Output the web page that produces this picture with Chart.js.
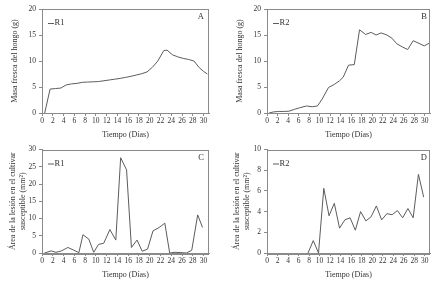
<!DOCTYPE html>
<html>
<head>
<meta charset="utf-8">
<script src="https://cdn.jsdelivr.net/npm/chart.js@4"></script>
<style>
  html, body { margin: 0; padding: 0; background: #fff; }
  body { width: 445px; height: 289px; position: relative; overflow: hidden; }
  .panel { position: absolute; }
</style>
</head>
<body>
<div class="panel" style="left:0;top:0;width:222px;height:142px"><canvas id="cA"></canvas></div>
<div class="panel" style="left:222px;top:0;width:223px;height:142px"><canvas id="cB"></canvas></div>
<div class="panel" style="left:0;top:142px;width:222px;height:147px"><canvas id="cC"></canvas></div>
<div class="panel" style="left:222px;top:142px;width:223px;height:147px"><canvas id="cD"></canvas></div>
<script>
// Tick labels
const xTicks = [0, 2, 4, 6, 8, 10, 12, 14, 16, 18, 20, 22, 24, 26, 28, 30];
const yTicksMasa = [0, 5, 10, 15, 20];
const yTicksAreaR1 = [0, 5, 10, 15, 20, 25, 30];
const yTicksAreaR2 = [0, 2, 4, 6, 8, 10];

// A: masa fresca R1
const daysA = [0.5, 1.5, 2.5, 3.5, 4.5, 5.5, 6.5, 7.5, 8.5, 9.5, 10.5, 11.5, 12.5, 13.5, 14.5, 15.5,
  16.5, 17.5, 18.5, 19.5, 20.5, 21.5, 22.6, 23.2, 24.2, 25.2, 26.2, 27.2, 28.2, 29.2, 30.0, 30.7];
const masaR1 = [0, 4.6, 4.7, 4.8, 5.4, 5.6, 5.7, 5.9, 5.95, 6.0, 6.05, 6.2, 6.35, 6.5, 6.65, 6.85,
  7.05, 7.3, 7.55, 7.9, 8.8, 10.0, 12.0, 12.1, 11.2, 10.8, 10.5, 10.3, 10.0, 8.7, 8.0, 7.5];

// B: masa fresca R2
const daysB = [0.4, 1.2, 2.2, 3.2, 4.2, 5.2, 6.2, 7.5, 8.6, 9.6, 10.5, 11.7, 12.8, 13.8, 14.5, 15.5,
  16.6, 17.6, 18.75, 19.8, 20.75, 21.7, 22.8, 23.75, 24.7, 25.75, 26.75, 27.8, 28.9, 29.9, 30.8];
const masaR2 = [0, 0.2, 0.3, 0.3, 0.35, 0.7, 1.0, 1.35, 1.2, 1.35, 2.7, 4.9, 5.5, 6.2, 6.9, 9.2,
  9.3, 16.0, 15.1, 15.5, 15.0, 15.4, 15.0, 14.4, 13.3, 12.7, 12.2, 13.9, 13.4, 12.9, 13.4];

// C: area de lesion R1
const daysC = [0.47, 1.7, 2.6, 3.6, 4.8, 5.8, 6.85, 7.6, 8.7, 9.6, 10.5, 11.45, 12.6, 13.7, 14.6,
  15.7, 16.6, 17.65, 18.6, 19.6, 20.6, 21.75, 22.8, 23.7, 24.7, 25.8, 26.8, 27.8, 28.9, 29.8];
const areaR1 = [0, 0.6, 0.2, 0.6, 1.6, 0.9, 0.1, 5.3, 4.0, 0.2, 2.5, 2.8, 6.8, 3.75, 27.6,
  24.1, 1.6, 3.75, 0.5, 1.15, 6.4, 7.4, 8.65, 0, 0.2, 0.1, 0, 0.8, 11.05, 7.4];

// D: area de lesion R2
const daysD = [7.8, 8.8, 9.8, 10.8, 11.8, 12.8, 13.8, 14.8, 15.8, 16.8, 17.8, 18.8, 19.8, 20.8,
  21.8, 22.8, 23.8, 24.8, 25.8, 26.8, 27.8, 28.8, 29.8];
const areaR2 = [0, 1.2, 0, 6.25, 3.6, 4.8, 2.4, 3.2, 3.4, 2.2, 4.0, 3.1, 3.5, 4.55,
  3.2, 3.8, 3.7, 4.1, 3.4, 4.3, 3.4, 7.6, 5.4];

const serif = '"Liberation Serif", "DejaVu Serif", serif';
const textColor = '#333';
const axisColor = '#8a8a8a';
const lineColor = '#5c5c5c';

// frame around the plot area + legend sample + panel letter
const framePlugin = {
  id: 'frame',
  afterDraw(chart, args, opts) {
    const { ctx, chartArea: a } = chart;
    ctx.save();
    ctx.strokeStyle = axisColor;
    ctx.lineWidth = 1;
    ctx.strokeRect(Math.round(a.left) + 0.5, Math.round(a.top) + 0.5,
      Math.round(a.right - a.left) - 1, Math.round(a.bottom - a.top));
    // legend
    const ly = a.top + 14;
    ctx.strokeStyle = lineColor;
    ctx.beginPath();
    ctx.moveTo(a.left + 6, ly + 0.5);
    ctx.lineTo(a.left + 12, ly + 0.5);
    ctx.stroke();
    ctx.fillStyle = textColor;
    ctx.font = '8.5px ' + serif;
    ctx.textBaseline = 'middle';
    ctx.textAlign = 'left';
    ctx.fillText(opts.label, a.left + 12.5, ly);
    ctx.textAlign = 'right';
    ctx.fillText(opts.letter, a.right - opts.letterInset, a.top + 8);
    ctx.restore();
  }
};

function makeChart(id, cfg) {
  return new Chart(document.getElementById(id), {
    type: 'line',
    data: {
      datasets: [{
        label: cfg.label,
        data: cfg.days.map((d, i) => ({ x: d, y: cfg.values[i] })),
        borderColor: lineColor,
        borderWidth: 1,
        pointRadius: 0,
        tension: 0,
        fill: false
      }]
    },
    options: {
      responsive: true,
      maintainAspectRatio: false,
      animation: false,
      layout: { padding: { top: cfg.padTop, right: cfg.padRight, left: 0, bottom: 0 } },
      scales: {
        x: {
          type: 'linear',
          min: 0,
          max: 31,
          afterBuildTicks: s => { s.ticks = xTicks.map(v => ({ value: v })); },
          afterFit: s => { s.height = cfg.xHeight; },
          title: {
            display: true,
            text: 'Tiempo (Días)',
            color: textColor,
            font: { family: serif, size: 8, lineHeight: 1.3 },
            padding: { top: 0, bottom: cfg.xTitlePad }
          },
          ticks: {
            color: textColor,
            font: { family: serif, size: 7.5 },
            padding: 1,
            maxRotation: 0,
            autoSkip: false
          },
          grid: { drawOnChartArea: false, tickLength: 3, color: axisColor },
          border: { color: axisColor }
        },
        y: {
          min: 0,
          max: cfg.yTicks[cfg.yTicks.length - 1],
          afterBuildTicks: s => { s.ticks = cfg.yTicks.map(v => ({ value: v })); },
          afterFit: s => { s.width = cfg.yWidth; },
          title: {
            display: true,
            text: cfg.yTitle,
            color: textColor,
            font: { family: serif, size: 8, lineHeight: 1.3 },
            padding: { top: cfg.yTitlePad, bottom: 0 }
          },
          ticks: {
            color: textColor,
            font: { family: serif, size: 7.5 },
            padding: 3
          },
          grid: { drawOnChartArea: false, tickLength: 3, color: axisColor },
          border: { color: axisColor }
        }
      },
      plugins: {
        legend: { display: false },
        tooltip: { enabled: false },
        frame: { label: cfg.label, letter: cfg.letter, letterInset: cfg.letterInset }
      }
    },
    plugins: [framePlugin]
  });
}

const masaTitle = 'Masa fresca del hongo (g)';
const areaTitle = ['Área de la lesión en el cultivar', 'susceptible (mm²)'];

makeChart('cA', { label: 'R1', letter: 'A', letterInset: 5, days: daysA, values: masaR1,
  yTicks: yTicksMasa, yTitle: masaTitle, padTop: 9, padRight: 13, yWidth: 42, xHeight: 29,
  xTitlePad: 1.5, yTitlePad: 9.8 });
makeChart('cB', { label: 'R2', letter: 'B', letterInset: 3, days: daysB, values: masaR2,
  yTicks: yTicksMasa, yTitle: masaTitle, padTop: 9, padRight: 15, yWidth: 45, xHeight: 29,
  xTitlePad: 1.5, yTitlePad: 12.5 });
makeChart('cC', { label: 'R1', letter: 'C', letterInset: 5, days: daysC, values: areaR1,
  yTicks: yTicksAreaR1, yTitle: areaTitle, padTop: 7, padRight: 13, yWidth: 42, xHeight: 36,
  xTitlePad: 8.5, yTitlePad: 7.5 });
makeChart('cD', { label: 'R2', letter: 'D', letterInset: 3, days: daysD, values: areaR2,
  yTicks: yTicksAreaR2, yTitle: areaTitle, padTop: 7, padRight: 15, yWidth: 45, xHeight: 36,
  xTitlePad: 8.5, yTitlePad: 9.5 });
</script>
</body>
</html>
